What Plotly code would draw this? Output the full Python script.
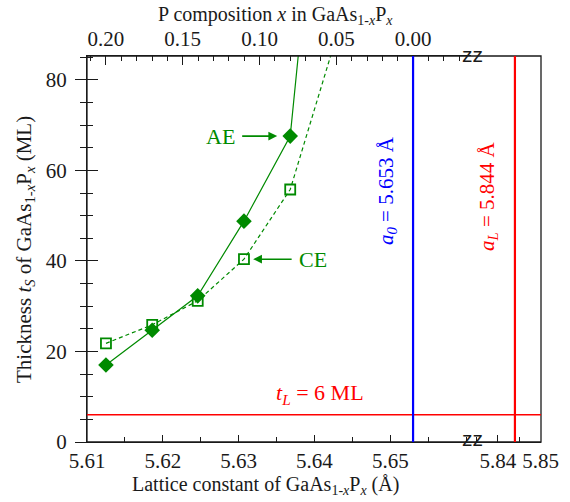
import plotly.graph_objects as go

# ---------------- data ----------------
lattice_AE = [5.6125, 5.6186, 5.6246, 5.6307, 5.6368, 5.6429]
thick_AE = [17.0, 24.7, 32.3, 48.8, 67.6, 170.0]
lattice_CE = [5.6125, 5.6186, 5.6246, 5.6307, 5.6368, 5.6429]
thick_CE = [21.8, 25.9, 31.2, 40.4, 55.8, 89.6]
a0_GaAs = 5.653      # a_0
aL = 5.844           # a_L
a_GaP = 5.4505
tL = 6               # t_L (ML)
bottom_ticks_left = [5.61, 5.62, 5.63, 5.64, 5.65]
bottom_ticks_right = [5.84, 5.85]
top_ticks = [0.20, 0.15, 0.10, 0.05, 0.00]
y_ticks = [0, 20, 40, 60, 80]

# ---------------- geometry helpers ----------------
W, H = 570, 502
ML, MR, MT, MB = 87, 29, 56, 60
PW, PH = W - ML - MR, H - MT - MB


def px_x(p):
    return (p - ML) / PW


def px_y(p):
    return (H - MB - p) / PH


brk = px_x(471)
left_range = [5.61, 5.66064]
right_range = [5.83372, 5.8501]


def comp(a):
    return (a0_GaAs - a) / (a0_GaAs - a_GaP)


top_range = [comp(left_range[0]), comp(left_range[1])]
y_range = [0, 85.3]

GREEN = "#008a00"
FONT = "Liberation Serif, Times New Roman, serif"
INK = "#1a1a1a"

fig = go.Figure()

fig.add_trace(go.Scatter(
    x=lattice_CE, y=thick_CE, mode="lines+markers", name="CE",
    line=dict(color=GREEN, width=1.2, dash="4px,3px"),
    marker=dict(symbol="square-open", size=10, color=GREEN, line=dict(width=1.8, color=GREEN)),
    xaxis="x", yaxis="y", cliponaxis=True,
))
fig.add_trace(go.Scatter(
    x=lattice_AE, y=thick_AE, mode="lines+markers", name="AE",
    line=dict(color=GREEN, width=1.2),
    marker=dict(symbol="diamond", size=12, color=GREEN),
    xaxis="x", yaxis="y", cliponaxis=True,
))
# empty traces to register the extra axes
fig.add_trace(go.Scatter(x=[], y=[], xaxis="x2", yaxis="y", showlegend=False))
fig.add_trace(go.Scatter(x=[], y=[], xaxis="x3", yaxis="y", showlegend=False))
fig.add_trace(go.Scatter(x=[], y=[], xaxis="x", yaxis="y2", showlegend=False))

tickfont = dict(family=FONT, size=21, color=INK)
common_x = dict(showgrid=False, zeroline=False, showline=True, linecolor=INK, linewidth=1.3,
                tickcolor=INK, tickwidth=1.2, tickfont=tickfont, fixedrange=True, automargin=False)

fig.update_layout(
    width=W, height=H,
    margin=dict(l=ML, r=MR, t=MT, b=MB, autoexpand=False),
    paper_bgcolor="white", plot_bgcolor="white",
    showlegend=False,
    font=dict(family=FONT, color=INK),
    xaxis=dict(domain=[0, brk], range=left_range, anchor="y", ticks="inside", ticklen=7,
               tickvals=bottom_ticks_left, tickformat=".2f",
               minor=dict(dtick=0.005, tick0=5.61, ticks="inside", ticklen=5, tickcolor=INK, tickwidth=1.2),
               **common_x),
    xaxis2=dict(domain=[brk, 1], range=right_range, anchor="y", ticks="inside", ticklen=7,
                tickvals=bottom_ticks_right, tickformat=".2f",
                minor=dict(tickvals=[5.835, 5.845], ticks="inside", ticklen=5, tickcolor=INK, tickwidth=1.2),
                **common_x),
    xaxis3=dict(overlaying="x", side="top", anchor="y", range=top_range, ticks="inside", ticklen=9,
                tickvals=top_ticks, tickformat=".2f",
                minor=dict(dtick=0.01, tick0=0, ticks="inside", ticklen=5, tickcolor=INK, tickwidth=1.2),
                **common_x),
    yaxis=dict(range=y_range, anchor="x", ticks="outside", ticklen=11, tickvals=y_ticks,
               ticklabelstandoff=4,
               minor=dict(dtick=5, tick0=0, ticks="outside", ticklen=6, tickcolor=INK, tickwidth=1.2),
               showgrid=False, zeroline=False, showline=True, linecolor=INK, linewidth=1.3,
               tickcolor=INK, tickwidth=1.2, tickfont=tickfont, fixedrange=True, automargin=False),
    yaxis2=dict(range=y_range, overlaying="y", anchor="x", side="left", ticks="inside", ticklen=11,
                tickvals=y_ticks, showticklabels=False,
                minor=dict(dtick=5, tick0=0, ticks="inside", ticklen=6, tickcolor=INK, tickwidth=1.2),
                showgrid=False, zeroline=False, showline=False, tickcolor=INK, tickwidth=1.2,
                fixedrange=True, automargin=False),
)

# frame and reference lines
shapes = [
    dict(type="rect", xref="paper", yref="paper", x0=0, x1=1, y0=0, y1=1,
         line=dict(color=INK, width=1.3)),
    dict(type="line", xref="paper", yref="y", x0=0, x1=1, y0=tL, y1=tL,
         line=dict(color="#ff0000", width=1.5)),
    dict(type="line", xref="x", yref="paper", x0=a0_GaAs, x1=a0_GaAs, y0=0, y1=1,
         line=dict(color="#0000ff", width=2.2)),
    dict(type="line", xref="x2", yref="paper", x0=aL, x1=aL, y0=0, y1=1,
         line=dict(color="#ff0000", width=2.2)),
]
fig.update_layout(shapes=shapes)

txt = dict(family=FONT, size=22)
vtxt = dict(family=FONT, size=21)
zzfont = dict(family="Liberation Sans, Arial, sans-serif", size=21, color=INK)
ann = [
    # axis titles
    dict(text="Lattice constant of GaAs<sub>1-<i>x</i></sub>P<sub><i>x</i></sub> (Å)",
         x=px_x(265), y=px_y(485), xref="paper", yref="paper", showarrow=False,
         font=dict(family=FONT, size=20, color=INK), xanchor="center", yanchor="middle"),
    dict(text="P composition <i>x</i> in GaAs<sub>1-<i>x</i></sub>P<sub><i>x</i></sub>",
         x=px_x(275), y=px_y(15), xref="paper", yref="paper", showarrow=False,
         font=dict(family=FONT, size=20, color=INK), xanchor="center", yanchor="middle"),
    dict(text="Thickness <i>t</i><sub><i>S</i></sub> of GaAs<sub>1-<i>x</i></sub>P<sub><i>x</i></sub> (ML)",
         x=px_x(25), y=px_y(250), xref="paper", yref="paper", showarrow=False, textangle=-90,
         font=dict(family=FONT, size=21, color=INK), xanchor="center", yanchor="middle"),
    # break marks
    dict(text="zz", x=px_x(472), y=1, xref="paper", yref="paper", showarrow=False,
         font=zzfont, xanchor="center", yanchor="middle", yshift=2),
    dict(text="zz", x=px_x(472), y=0, xref="paper", yref="paper", showarrow=False,
         font=zzfont, xanchor="center", yanchor="middle", yshift=4),
    # vertical labels
    dict(text="<i>a</i><sub><i>0</i></sub> = 5.653 Å", x=px_x(387), y=px_y(191),
         xref="paper", yref="paper", showarrow=False, textangle=-90,
         font=dict(vtxt, color="#0000ff"), xanchor="center", yanchor="middle"),
    dict(text="<i>a</i><sub><i>L</i></sub> = 5.844 Å", x=px_x(488), y=px_y(196),
         xref="paper", yref="paper", showarrow=False, textangle=-90,
         font=dict(vtxt, color="#ff0000"), xanchor="center", yanchor="middle"),
    dict(text="<i>t</i><sub><i>L</i></sub> = 6 ML", x=px_x(320), y=px_y(394),
         xref="paper", yref="paper", showarrow=False,
         font=dict(txt, color="#ff0000"), xanchor="center", yanchor="middle"),
    # series labels with arrows
    dict(text="AE", x=5.63508, y=67.6, xref="x", yref="y", showarrow=True,
         ax=-57, ay=0, arrowhead=2, arrowsize=1.1, arrowwidth=1.6, arrowcolor=GREEN,
         startstandoff=6, font=dict(txt, color=GREEN)),
    dict(text="CE", x=5.63191, y=40.4, xref="x", yref="y", showarrow=True,
         ax=60, ay=0, arrowhead=2, arrowsize=1.1, arrowwidth=1.6, arrowcolor=GREEN,
         startstandoff=6, font=dict(txt, color=GREEN)),
]
fig.update_layout(annotations=ann)

fig.write_html("out.html", config={"displayModeBar": False},
               post_script="document.body.style.margin='0';document.body.style.overflow='hidden';")
